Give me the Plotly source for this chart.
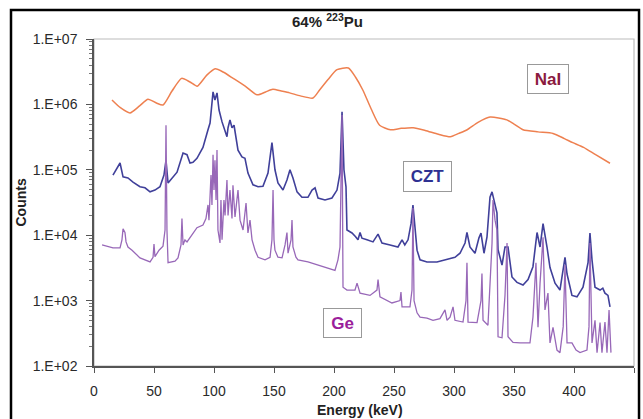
import plotly.graph_objects as go

# ---------------- data ----------------
nai_energy = [15, 22, 30, 38, 45, 52, 57.5, 65, 73, 80, 86, 94, 101, 108, 116, 126, 136, 143,
              149, 156, 163, 172, 182.5, 188, 195, 202.5, 212, 218, 224, 231, 238, 247, 256,
              266, 276, 287, 297, 304, 311, 320, 330, 344, 350, 357.5, 370, 382.5, 392, 399,
              408, 418, 430]
nai_counts = [1.17e6, 8.9e5, 7.4e5, 9.5e5, 1.2e6, 1.05e6, 9.8e5, 1.6e6, 2.5e6, 2.2e6, 1.9e6,
              2.8e6, 3.5e6, 3.1e6, 2.5e6, 1.9e6, 1.4e6, 1.55e6, 1.7e6, 1.6e6, 1.5e6, 1.35e6,
              1.25e6, 1.66e6, 2.4e6, 3.4e6, 3.6e6, 2.6e6, 1.66e6, 8.5e5, 4.8e5, 4.1e5, 4.3e5,
              4.4e5, 4.0e5, 3.5e5, 3.2e5, 3.6e5, 4.1e5, 5.3e5, 6.4e5, 5.8e5, 5.0e5, 4.1e5,
              3.8e5, 3.6e5, 3.0e5, 2.6e5, 2.2e5, 1.7e5, 1.26e5]

czt_energy = [15.8, 21.7, 24.2, 28.3, 32.5, 38.3, 42.5, 46.7, 50.8, 55, 58.3, 60, 61.7, 65,
              69.2, 74.2, 77.5, 80, 82.5, 85.8, 90.8, 95, 96.7, 99.2, 100.8, 102.5, 104.2,
              106.7, 109.2, 110.8, 111.7, 113.3, 115, 116.7, 120, 123.3, 125.8, 128.3, 132.5,
              136.7, 140.8, 145, 148.3, 150.8, 153.3, 157.5, 160.8, 163.3, 165.8, 169.2,
              173.3, 178.3, 181.7, 184.2, 186.7, 192.5, 198.3, 202.5, 205, 206.7, 208.3, 210,
              210.8, 215, 218, 220, 221.7, 223.3, 227.5, 232.5, 236.7, 240, 246.7, 253.3,
              256.7, 259, 261.7, 264.2, 265.8, 267.5, 269.2, 271.7, 277.5, 285.8, 292.5,
              296.7, 300.8, 305, 309.2, 310.8, 313.3, 317.5, 320.8, 322.5, 325, 327.5, 330,
              331.7, 334.2, 335.8, 336.7, 340, 342.5, 345, 348.3, 352.5, 357.5, 361.7, 365.8,
              369.2, 371.7, 374.2, 377.5, 380, 384.2, 388.3, 392.5, 394.2, 398.3, 402.5,
              407.5, 411.7, 413.3, 415, 417.5, 421.7, 424, 425.8, 428.3, 430]
czt_counts = [8.3e4, 1.27e5, 7.8e4, 7.5e4, 6.5e4, 5.5e4, 5.3e4, 4.6e4, 4.9e4, 5.5e4, 8.3e4,
              1.4e5, 6.3e4, 7.5e4, 9.2e4, 1.8e5, 1.7e5, 1.27e5, 1.3e5, 1.5e5, 2.2e5, 4.1e5,
              5.2e5, 1.55e6, 1.17e6, 1.5e6, 8.2e5, 5.4e5, 4.1e5, 3.2e5, 4.4e5, 5.8e5, 4.4e5,
              4.8e5, 2.0e5, 1.57e5, 1.5e5, 8.9e4, 5.9e4, 5.5e4, 5.6e4, 8.9e4, 2.6e5, 1.0e5,
              6.3e4, 4.9e4, 7.0e4, 1.0e5, 7.5e4, 4.6e4, 3.8e4, 3.8e4, 4.9e4, 5.3e4, 3.7e4,
              3.45e4, 3.7e4, 4.9e4, 8.9e4, 7.7e5, 1.0e5, 5.5e4, 1.2e4, 1.08e4, 9.5e3, 8.5e3,
              1.1e4, 9.0e3, 8.5e3, 7.9e3, 1.04e4, 7.6e3, 7.1e3, 6.6e3, 8.5e3, 7.1e3, 8.5e3,
              1.5e4, 2.9e4, 1.3e4, 5.9e3, 4.2e3, 3.9e3, 3.9e3, 4.2e3, 4.5e3, 4.6e3, 5.3e3,
              7.6e3, 1.1e4, 6.6e3, 5.3e3, 9.1e3, 1.08e4, 5.3e3, 9.4e3, 3.8e4, 4.6e4, 3.1e4,
              2.2e4, 6.0e3, 3.5e3, 6.6e3, 6.6e3, 2.3e3, 1.9e3, 1.73e3, 2.1e3, 3.3e3, 1.1e4,
              6.6e3, 1.5e4, 6.6e3, 3.2e3, 1.85e3, 1.45e3, 4.6e3, 2.55e3, 1.2e3, 1.14e3,
              1.6e3, 3.8e3, 1.08e4, 4.2e3, 1.6e3, 1.45e3, 1.55e3, 1.3e3, 1.2e3, 8.0e2]

ge_energy = [6.7, 15.8, 21.7, 23.3, 24.2, 25.8, 26.7, 28.3, 31.7, 38.3, 46.7, 49.2, 50, 50.8,
             54.2, 57.5, 59.2, 60, 60.8, 61.7, 67.5, 70, 72.5, 73.3, 74.2, 75.8, 77.5, 81.7,
             84.2, 85.8, 90.8, 93.3, 95, 95.8, 97.5, 98.3, 99.2, 100, 100.8, 101.7, 102.5,
             103.3, 105, 105.8, 106.7, 108.3, 109.2, 110.8, 111.7, 113.3, 115, 115.8, 117.5,
             120, 121.7, 124.2, 126.7, 128.3, 130, 131.7, 134.2, 136.7, 142.5, 146.7, 148.3,
             149.2, 150, 150.8, 153.3, 156.7, 159.2, 160.8, 161.7, 164.2, 165, 165.8, 168.3,
             170, 178.3, 186.7, 195, 200.8, 203.3, 205, 206.7, 207.5, 210.8, 217.5, 219.2,
             221.7, 230, 235.8, 236.7, 238.3, 248.3, 255, 255.8, 256.7, 263.3, 265, 265.8,
             266.7, 269.2, 271.7, 277.5, 282.5, 288.3, 292.5, 294.2, 296.7, 299.2, 300.8,
             307.5, 310, 310.8, 311.7, 319.2, 322.5, 323.3, 324.2, 328.3, 330.8, 331.7, 332.5,
             334.2, 335.8, 336.7, 340, 342.5, 344.2, 345, 349.2, 355, 363.3, 365.8, 368.3,
             370, 371.7, 374.2, 375.8, 378.3, 380, 382.5, 385.8, 388.3, 391, 392.5, 394.2,
             398.3, 401.7, 405, 410.8, 412.5, 413.3, 415, 417.5, 419.2, 421.7, 423.3, 425.8,
             427.5, 429.2, 430.8]
ge_counts = [7.1e3, 6.4e3, 6.4e3, 8.5e3, 1.25e4, 1.1e4, 7.9e3, 6.6e3, 5.9e3, 4.5e3, 3.9e3,
             4.6e3, 7.3e3, 4.7e3, 5.9e3, 6.8e3, 1.2e4, 4.8e5, 1.2e4, 3.8e3, 4.0e3, 4.5e3,
             7.1e3, 1.8e4, 7.1e3, 8.5e3, 7.9e3, 1.04e4, 1.2e4, 1.3e4, 1.43e4, 1.8e4, 2.9e4,
             1.7e4, 8.3e4, 2.9e4, 1.7e5, 4.9e4, 1.4e5, 3.45e4, 2.0e5, 1.2e4, 7.6e3, 3.45e4,
             8.5e3, 3.45e4, 2.0e4, 7.0e4, 2.0e4, 4.9e4, 1.8e4, 5.8e4, 1.9e4, 4.9e4, 1.7e4,
             1.2e4, 3.1e4, 1.08e4, 1.7e4, 8.5e3, 5.9e3, 4.6e3, 4.2e3, 4.6e3, 8.5e3, 4.9e4,
             8.5e3, 5.9e3, 4.6e3, 4.5e3, 7.1e3, 1.1e4, 5.3e3, 8.5e3, 1.7e4, 6.6e3, 4.6e3,
             4.2e3, 3.9e3, 3.5e3, 3.2e3, 2.9e3, 4.2e3, 6.6e3, 6.9e5, 1.6e3, 1.45e3, 1.45e3,
             1.85e3, 1.3e3, 1.2e3, 1.45e3, 2.1e3, 1.14e3, 9.2e2, 1.0e3, 1.35e3, 8.0e2, 8.0e2,
             1.45e3, 2.6e4, 1.0e3, 6.5e2, 5.6e2, 5.4e2, 5.0e2, 5.3e2, 7.2e2, 5.0e2, 5.6e2,
             8.0e2, 5.0e2, 4.7e2, 1.0e3, 3.8e3, 4.7e2, 4.6e2, 1.0e3, 2.6e3, 5.0e2, 4.2e2,
             2.9e3, 7.6e3, 3.45e4, 1.7e4, 1.2e4, 2.8e2, 2.7e2, 1.2e3, 7.6e3, 2.8e2, 2.3e2,
             2.25e2, 2.25e2, 5.6e2, 3.8e3, 3.9e2, 1.85e3, 9.3e3, 7.2e2, 1.3e3, 2.25e2, 3.9e2,
             1.75e2, 1.6e2, 4.0e2, 3.5e3, 2.25e2, 2.25e2, 1.75e2, 1.6e2, 1.75e2, 4.0e2,
             7.6e3, 2.25e2, 5.0e2, 1.6e2, 4.6e2, 1.6e2, 4.7e2, 1.6e2, 7.2e2, 1.6e2]

x_tick_vals = [0, 50, 100, 150, 200, 250, 300, 350, 400, 450]
y_tick_vals = [1e2, 1e3, 1e4, 1e5, 1e6, 1e7]
y_tick_text = ["1.E+02", "1.E+03", "1.E+04", "1.E+05", "1.E+06", "1.E+07"]
y_minor_vals = [m * d for d in [1e2, 1e3, 1e4, 1e5, 1e6] for m in range(2, 10)]

FONT = "Liberation Sans, Arial, sans-serif"

fig = go.Figure()
fig.add_trace(go.Scatter(x=czt_energy, y=czt_counts, mode="lines",
                         line=dict(color="#40409A", width=1.6), name="CZT"))
fig.add_trace(go.Scatter(x=ge_energy, y=ge_counts, mode="lines",
                         line=dict(color="#9868B8", width=1.3), name="Ge"))
fig.add_trace(go.Scatter(x=nai_energy, y=nai_counts, mode="lines",
                         line=dict(color="#EE8050", width=1.5, shape="spline", smoothing=0.6),
                         name="NaI"))

axis_font = dict(family=FONT, size=14, color="#2A2A2A")

fig.update_layout(
    width=643, height=419,
    margin=dict(l=94, r=9, t=39, b=53),
    paper_bgcolor="white", plot_bgcolor="white",
    showlegend=False,
    font=dict(family=FONT),
    xaxis=dict(range=[0, 450], tickvals=x_tick_vals, showgrid=False, zeroline=False,
               showline=True, linecolor="#555555", linewidth=1.5,
               ticks="outside", ticklen=5, tickcolor="#555555",
               tickfont=axis_font, ticklabelstandoff=6),
    yaxis=dict(type="log", range=[2, 7], tickvals=y_tick_vals, ticktext=y_tick_text,
               showgrid=False, zeroline=False, showline=True, linecolor="#555555",
               linewidth=1.5, ticks="outside", ticklen=6, tickcolor="#555555",
               tickfont=axis_font, ticklabelstandoff=6,
               minor=dict(tickvals=y_minor_vals, ticks="outside", ticklen=3,
                          tickcolor="#777777", showgrid=False)),
    shapes=[
        dict(type="rect", xref="paper", yref="paper", x0=0, x1=1, y0=0, y1=1,
             line=dict(color="#BBBBBB", width=1.2), layer="below"),
        dict(type="rect", xref="paper", yref="paper", x0=-0.1537, x1=1.0093,
             y0=-0.20, y1=1.0887, line=dict(color="black", width=2.5)),
    ],
    annotations=[
        dict(text="<b>64% <sup>223</sup>Pu</b>", xref="paper", yref="paper",
             x=0.433, y=1.058, xanchor="center", yanchor="middle", showarrow=False,
             font=dict(family=FONT, size=15, color="#222")),
        dict(text="<b>Counts</b>", xref="paper", yref="paper", x=-0.137, y=0.5,
             xanchor="center", yanchor="middle",
             textangle=-90, showarrow=False, font=dict(family=FONT, size=14, color="#222")),
        dict(text="<b>Energy (keV)</b>", xref="paper", yref="paper", x=0.4926, y=-0.1346,
             xanchor="center", yanchor="middle",
             showarrow=False, font=dict(family=FONT, size=14, color="#222")),
        dict(text="<b>NaI</b>", x=378, y=6.381, xref="x", yref="y", showarrow=False,
             font=dict(family=FONT, size=17, color="#8B1A3F"), width=38, height=26,
             bordercolor="#999999", borderwidth=1, bgcolor="white"),
        dict(text="<b>CZT</b>", x=277.5, y=4.905, xref="x", yref="y", showarrow=False,
             font=dict(family=FONT, size=17, color="#2E3192"), width=45, height=27,
             bordercolor="#999999", borderwidth=1, bgcolor="white"),
        dict(text="<b>Ge</b>", x=206.7, y=2.65, xref="x", yref="y", showarrow=False,
             font=dict(family=FONT, size=17, color="#9B1E9B"), width=35, height=26,
             bordercolor="#999999", borderwidth=1, bgcolor="white"),
    ],
)

fig.write_html("out.html", config={"displayModeBar": False},
               post_script="document.body.style.margin='0';document.body.style.overflow='hidden';")
